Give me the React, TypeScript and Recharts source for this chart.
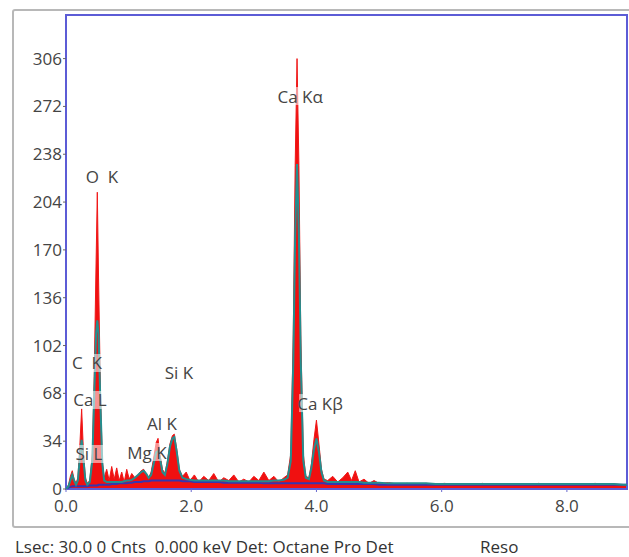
import { ComposedChart, Area, Line, XAxis, YAxis, ReferenceArea, ReferenceDot } from "recharts";

// EDS spectrum (keV vs counts)
const energy = [
  0.0, 0.04, 0.07, 0.1, 0.13, 0.16, 0.19, 0.22, 0.25, 0.28, 0.31, 0.34, 0.38, 0.42, 0.45, 0.48, 0.5, 0.52, 0.55, 0.58,
  0.61, 0.65, 0.69, 0.73, 0.77, 0.81, 0.85, 0.89, 0.93, 0.97, 1.01, 1.05, 1.1, 1.15, 1.2, 1.24, 1.28, 1.32, 1.36, 1.4,
  1.44, 1.47, 1.5, 1.54, 1.58, 1.62, 1.66, 1.7, 1.73, 1.77, 1.81, 1.86, 1.92, 1.98, 2.05, 2.12, 2.2, 2.28, 2.36, 2.44,
  2.52, 2.6, 2.68, 2.76, 2.84, 2.92, 3.0, 3.08, 3.16, 3.24, 3.32, 3.4, 3.48, 3.54, 3.59, 3.63, 3.66, 3.69, 3.72, 3.75,
  3.79, 3.83, 3.88, 3.92, 3.96, 4.0, 4.04, 4.08, 4.12, 4.18, 4.26, 4.34, 4.42, 4.5, 4.56, 4.62, 4.68, 4.76, 4.84, 4.92,
  5.0, 5.15, 5.3, 5.45, 5.6, 5.75, 5.9, 6.05, 6.2, 6.35, 6.5, 6.65, 6.8, 6.95, 7.1, 7.25, 7.4, 7.55, 7.7, 7.85,
  8.0, 8.15, 8.3, 8.45, 8.6, 8.75, 8.9, 8.96,
];
const counts = [
  0, 3, 9, 13, 7, 4, 8, 30, 57, 25, 8, 4, 6, 25, 80, 160, 211, 150, 70, 20,
  8, 14, 6, 16, 7, 15, 6, 12, 5, 14, 7, 11, 8, 10, 13, 14, 11, 8, 12, 22,
  33, 36, 25, 14, 11, 20, 32, 38, 39, 28, 14, 9, 12, 6, 10, 5, 9, 6, 11, 5,
  8, 6, 10, 5, 7, 5, 9, 6, 12, 6, 9, 5, 8, 10, 25, 110, 230, 306, 230, 110,
  25, 9, 8, 18, 35, 49, 32, 14, 7, 6, 9, 5, 8, 12, 6, 13, 5, 7, 4, 6,
  4, 4.5, 3.5, 4, 3, 4, 3.5, 4, 3, 3.5, 3, 4, 3, 3.5, 3, 3.5, 3, 4, 3, 3.5,
  3, 3.5, 3, 4, 3, 3.5, 3, 3,
];
const fit = [
  0, 2, 6, 10, 6, 3, 6, 22, 35, 20, 6, 3, 5, 20, 65, 110, 120, 110, 60, 18,
  6, 5, 5, 5, 5, 5, 5, 5, 5.5, 6, 6, 6.5, 8, 10, 12, 13, 11, 8, 10, 18,
  26, 27, 22, 12, 10, 18, 30, 36, 37, 26, 13, 8, 7, 6.5, 6, 6, 6, 6, 6, 6,
  6, 5.5, 5.5, 5.5, 5.5, 5.5, 5.5, 5.5, 5.5, 5.5, 6, 6, 6.5, 8, 20, 90, 180, 231, 180, 90,
  20, 8, 7, 15, 28, 36, 26, 12, 6, 5, 5, 5, 5, 5, 5, 5, 5, 4.5, 4.5, 4.5,
  4.5, 4, 4, 4, 4, 4, 3.5, 3.5, 3.5, 3.5, 3.5, 3.5, 3.5, 3.5, 3.5, 3.5, 3.5, 3.5, 3.5, 3.5,
  3.5, 3.5, 3.5, 3.5, 3.5, 3.5, 3, 3,
];
const background = [
  0, 1, 1.5, 2, 2, 2, 2, 2, 2, 2, 2, 2, 2.5, 2.5, 2.5, 2.5, 2.5, 3, 3, 3,
  3, 3, 3, 3.5, 3.5, 3.5, 4, 4, 4, 4, 4.5, 4.5, 5, 5, 5, 5.5, 5.5, 5.5, 6, 6,
  6, 6, 6, 6, 6, 6, 6, 6, 6, 6, 6, 5.5, 5.5, 5.5, 5, 5, 5, 5, 5, 5,
  4.5, 4.5, 4.5, 4.5, 4.5, 4.5, 4.5, 4.5, 4, 4, 4, 4, 4, 4, 4, 4, 4, 4, 4, 4,
  4, 4, 4, 4, 4, 4, 4, 4, 4, 3.5, 3.5, 3.5, 3.5, 3.5, 3.5, 3.5, 3.5, 3.5, 3.5, 3.5,
  3, 3, 3, 3, 3, 3, 3, 3, 3, 3, 3, 3, 3, 3, 3, 3, 3, 3, 3, 3,
  3, 3, 3, 3, 3, 3, 3, 3,
];

const xTicks = [0, 2, 4, 6, 8];
const yTicks = [0, 34, 68, 102, 136, 170, 204, 238, 272, 306];

// peak labels (name, keV, counts where the label sits)
const peakNames = ["O  K", "Ca K\u03b1", "C  K", "Ca L", "Si L", "Mg K", "Al K", "Si K", "Ca K\u03b2"];
const peakX = [0.575, 3.74, 0.335, 0.383, 0.367, 1.294, 1.534, 1.805, 4.058];
const peakY = [222.5, 279.4, 89.6, 63.3, 24.9, 26.3, 46.9, 82.5, 61.1];

const data = energy.map((e, i) => ({ e, counts: counts[i], fit: fit[i], bkg: background[i] }));

const FONT = "'Open Sans', 'Noto Sans', sans-serif";

function PeakLabel(props: any) {
  const { cx, cy, text } = props;
  const w = text.length * 8.4;
  return (
    <g>
      <rect x={cx - w / 2} y={cy - 9} width={w} height={18} fill="#fff" fillOpacity={0.55} />
      <text
        x={cx}
        y={cy}
        textAnchor="middle"
        dominantBaseline="central"
        fontSize={17}
        fontFamily={FONT}
        fill="#444"
        style={{ whiteSpace: "pre" }}
      >
        {text}
      </text>
    </g>
  );
}

export default function App() {
  return (
    <div
      style={{
        position: "absolute",
        left: 0,
        top: 0,
        width: 629,
        height: 557,
        overflow: "hidden",
        background: "#fff",
        fontFamily: FONT,
      }}
    >
      <div
        style={{
          position: "absolute",
          left: 12,
          top: 9,
          width: 660,
          height: 515,
          border: "2px solid #b8b8b8",
          borderRadius: 3,
        }}
      />
      <div style={{ position: "absolute", left: 0, top: 0 }}>
        <ComposedChart width={629} height={530} data={data} margin={{ top: 15, right: 2, bottom: 0, left: 0 }}>
          <XAxis
            dataKey="e"
            type="number"
            domain={[0, 8.96]}
            ticks={xTicks}
            allowDataOverflow
            tickFormatter={(v: number) => v.toFixed(1)}
            axisLine={false}
            tickLine={{ stroke: "#6a6ad0" }}
            tickSize={3}
            tickMargin={8}
            height={41}
            tick={{ fontSize: 17, fill: "#444", fontFamily: FONT }}
          />
          <YAxis
            type="number"
            domain={[0, 337]}
            ticks={yTicks}
            allowDataOverflow
            axisLine={false}
            tickLine={{ stroke: "#666" }}
            tickSize={3}
            tickMargin={1}
            width={66}
            tick={{ fontSize: 17, fill: "#444", fontFamily: FONT }}
          />
          <Area
            dataKey="counts"
            type="linear"
            stroke="#f01818"
            strokeWidth={1}
            fill="#f01010"
            fillOpacity={1}
            isAnimationActive={false}
            dot={false}
            activeDot={false}
          />
          <Line
            dataKey="bkg"
            type="linear"
            stroke="#3535b0"
            strokeWidth={2}
            dot={false}
            activeDot={false}
            isAnimationActive={false}
          />
          <Line
            dataKey="fit"
            type="linear"
            stroke="#248e8e"
            strokeWidth={2}
            dot={false}
            activeDot={false}
            isAnimationActive={false}
          />
          <ReferenceArea x1={0} x2={8.96} y1={0} y2={337} fill="none" stroke="#5c5cd6" strokeWidth={2} />
          {peakNames.map((name, i) => (
            <ReferenceDot
              key={name}
              x={peakX[i]}
              y={peakY[i]}
              r={0}
              shape={(p: any) => <PeakLabel {...p} text={name} />}
            />
          ))}
        </ComposedChart>
      </div>
      <div
        style={{
          position: "absolute",
          left: 15,
          top: 537,
          fontSize: 17,
          color: "#333",
          whiteSpace: "pre",
          lineHeight: "20px",
        }}
      >
        {"Lsec: 30.0 0 Cnts  0.000 keV Det: Octane Pro Det"}
      </div>
      <div style={{ position: "absolute", left: 480, top: 537, fontSize: 17, color: "#333", lineHeight: "20px" }}>Reso</div>
    </div>
  );
}
